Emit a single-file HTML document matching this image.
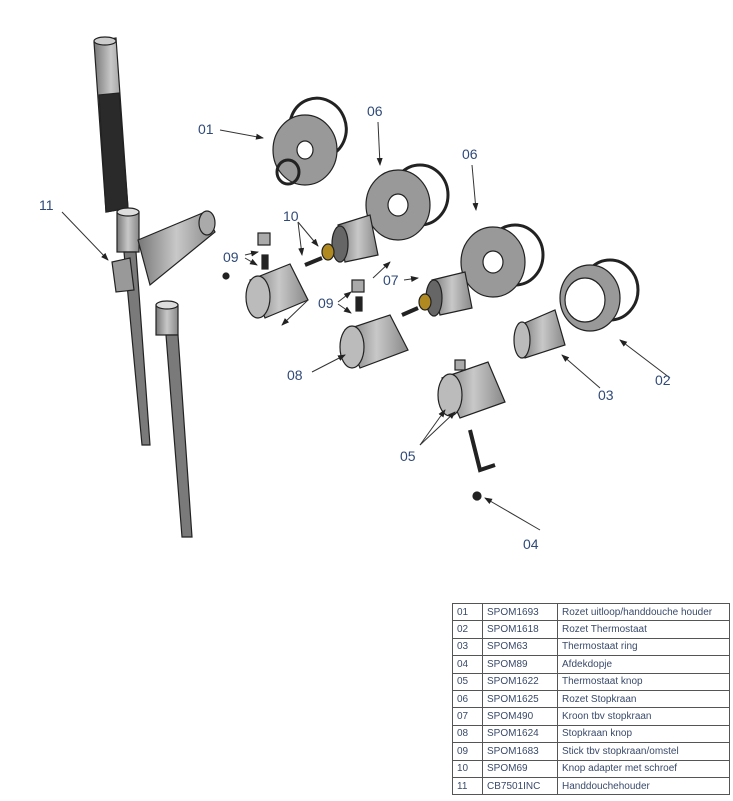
<!DOCTYPE html>
<html><head><style>
body{margin:0;background:#fff;width:733px;height:801px;overflow:hidden;font-family:"Liberation Sans",sans-serif}
svg{position:absolute;left:0;top:0}
table{position:absolute;left:452px;top:603px;border-collapse:collapse;font-size:10px;color:#3a4a6a}
td{border:1px solid #555;height:16.4px;padding:0 0 0 4px;white-space:nowrap}
</style></head><body>
<svg width="733" height="801" viewBox="0 0 733 801">
<defs>
<linearGradient id="g" x1="0" x2="1"><stop offset="0" stop-color="#777"/><stop offset=".5" stop-color="#c8c8c8"/><stop offset="1" stop-color="#888"/></linearGradient>
<marker id="a" markerWidth="8" markerHeight="8" refX="7" refY="4" orient="auto"><path d="M0,1 L8,4 L0,7z" fill="#222"/></marker>
</defs>
<g stroke="#222" stroke-width="1.2">
<path d="M94,42 L116,38 L128,208 L106,212z" fill="url(#g)"/>
<path d="M99,95 L119,93 L128,208 L106,212z" fill="#2a2a2a"/>
<ellipse cx="105" cy="41" rx="11" ry="4" fill="#ccc"/>
<rect x="117" y="212" width="22" height="40" fill="url(#g)"/>
<ellipse cx="128" cy="212" rx="11" ry="4" fill="#ddd"/>
<path d="M124,252 L136,252 L150,445 L142,445z" fill="#7a7a7a"/>
<path d="M138,240 L205,212 L215,232 L150,285z" fill="url(#g)"/>
<ellipse cx="207" cy="223" rx="8" ry="12" fill="#aaa"/>
<path d="M112,262 L130,258 L134,290 L116,292z" fill="#999"/>
<rect x="156" y="305" width="22" height="30" fill="url(#g)"/>
<ellipse cx="167" cy="305" rx="11" ry="4" fill="#ddd"/>
<path d="M166,335 L178,335 L192,537 L182,537z" fill="#7a7a7a"/>
<ellipse cx="318" cy="128" rx="28" ry="30" fill="none" stroke-width="3" transform="rotate(-20 318 128)"/>
<ellipse cx="305" cy="150" rx="32" ry="35" fill="#999"/>
<ellipse cx="305" cy="150" rx="8" ry="9" fill="#fff"/>
<ellipse cx="288" cy="172" rx="11" ry="12" fill="none" stroke-width="3"/>
<ellipse cx="420" cy="195" rx="28" ry="30" fill="none" stroke-width="3"/>
<ellipse cx="398" cy="205" rx="32" ry="35" fill="#999"/>
<ellipse cx="398" cy="205" rx="10" ry="11" fill="#fff"/>
<path d="M338,225 L370,215 L378,255 L345,262z" fill="url(#g)"/>
<ellipse cx="340" cy="244" rx="8" ry="18" fill="#666"/>
<ellipse cx="328" cy="252" rx="6" ry="8" fill="#b08a20"/>
<ellipse cx="515" cy="255" rx="28" ry="30" fill="none" stroke-width="3"/>
<ellipse cx="493" cy="262" rx="32" ry="35" fill="#999"/>
<ellipse cx="493" cy="262" rx="10" ry="11" fill="#fff"/>
<path d="M432,280 L465,272 L472,308 L440,315z" fill="url(#g)"/>
<ellipse cx="434" cy="298" rx="8" ry="18" fill="#666"/>
<ellipse cx="425" cy="302" rx="6" ry="8" fill="#b08a20"/>
<ellipse cx="610" cy="290" rx="28" ry="30" fill="none" stroke-width="3"/>
<ellipse cx="590" cy="298" rx="30" ry="33" fill="#999"/>
<ellipse cx="585" cy="300" rx="20" ry="22" fill="#fff"/>
<path d="M520,325 L555,310 L565,345 L525,358z" fill="url(#g)"/>
<ellipse cx="522" cy="340" rx="8" ry="18" fill="#bbb"/>
<path d="M250,280 L290,264 L308,300 L265,318z" fill="url(#g)"/>
<ellipse cx="258" cy="297" rx="12" ry="21" fill="#bbb"/>
<path d="M345,330 L390,315 L408,350 L360,368z" fill="url(#g)"/>
<ellipse cx="352" cy="347" rx="12" ry="21" fill="#bbb"/>
<path d="M442,378 L488,362 L505,402 L460,418z" fill="url(#g)"/>
<ellipse cx="450" cy="395" rx="12" ry="21" fill="#bbb"/>
<rect x="455" y="360" width="10" height="10" fill="#aaa"/>
<path d="M470,430 L480,470 L495,465" fill="none" stroke-width="4"/>
<circle cx="477" cy="496" r="4" fill="#222"/>
<rect x="258" y="233" width="12" height="12" fill="#aaa"/>
<rect x="262" y="255" width="6" height="14" fill="#222"/>
<rect x="352" y="280" width="12" height="12" fill="#aaa"/>
<rect x="356" y="297" width="6" height="14" fill="#222"/>
<path d="M305,265 L322,258" stroke-width="4"/>
<path d="M402,315 L418,308" stroke-width="4"/>
<circle cx="226" cy="276" r="3" fill="#222"/>
</g>
<g stroke="#333" stroke-width="1" marker-end="url(#a)" fill="none">
<path d="M220,130 L263,138"/><path d="M378,122 L380,165"/><path d="M472,165 L476,210"/>
<path d="M62,212 L108,260"/><path d="M298,222 L318,246"/><path d="M298,222 L302,255"/>
<path d="M245,255 L258,252"/><path d="M245,258 L257,265"/><path d="M338,302 L351,292"/><path d="M338,304 L351,313"/>
<path d="M373,278 L390,262"/><path d="M404,280 L418,278"/><path d="M312,372 L345,355"/><path d="M308,300 L282,325"/>
<path d="M670,378 L620,340"/><path d="M600,388 L562,355"/><path d="M420,445 L455,412"/><path d="M420,445 L445,410"/><path d="M540,530 L485,498"/>
</g>
<g font-size="14" fill="#2f4a78" font-family="Liberation Sans,sans-serif">
<text x="198" y="134">01</text><text x="367" y="116">06</text><text x="462" y="159">06</text>
<text x="39" y="210">11</text><text x="283" y="221">10</text><text x="223" y="262">09</text>
<text x="318" y="308">09</text><text x="383" y="285">07</text><text x="287" y="380">08</text>
<text x="655" y="385">02</text><text x="598" y="400">03</text><text x="400" y="461">05</text><text x="523" y="549">04</text>
</g>
</svg>
<table>
<tr><td style="width:25px">01</td><td style="width:70px">SPOM1693</td><td style="width:167px">Rozet uitloop/handdouche houder</td></tr>
<tr><td>02</td><td>SPOM1618</td><td>Rozet Thermostaat</td></tr>
<tr><td>03</td><td>SPOM63</td><td>Thermostaat ring</td></tr>
<tr><td>04</td><td>SPOM89</td><td>Afdekdopje</td></tr>
<tr><td>05</td><td>SPOM1622</td><td>Thermostaat knop</td></tr>
<tr><td>06</td><td>SPOM1625</td><td>Rozet Stopkraan</td></tr>
<tr><td>07</td><td>SPOM490</td><td>Kroon tbv stopkraan</td></tr>
<tr><td>08</td><td>SPOM1624</td><td>Stopkraan knop</td></tr>
<tr><td>09</td><td>SPOM1683</td><td>Stick tbv stopkraan/omstel</td></tr>
<tr><td>10</td><td>SPOM69</td><td>Knop adapter met schroef</td></tr>
<tr><td>11</td><td>CB7501INC</td><td>Handdouchehouder</td></tr>
</table>
</body></html>
